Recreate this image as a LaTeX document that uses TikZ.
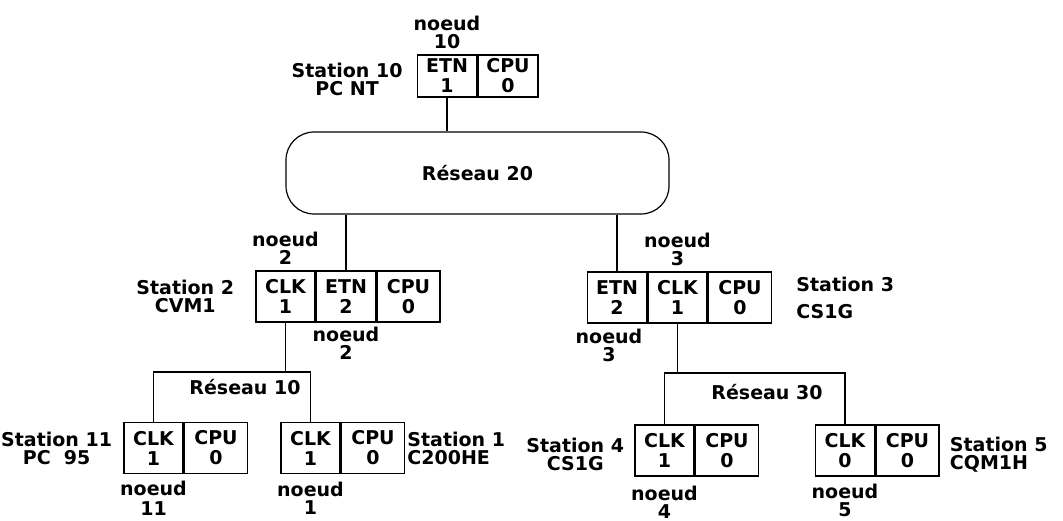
\documentclass[tikz,border=0pt]{standalone}
\usepackage{fontspec}
\setmainfont{DejaVu Sans}
\usetikzlibrary{positioning}
\tikzset{
  cellule/.style = {draw, line width = 1.5pt, minimum width = 59pt, minimum height = 51pt, inner sep = 0pt, align = center, font = \fontsize{19}{20}\selectfont\bfseries},
  cellcpu/.style = {cellule, minimum width = 63pt},
  etiq/.style = {inner sep = 0pt, align = center},
  lien/.style = {line width = 1.5pt}
}

\begin{document}
\begin{tikzpicture}[x = 1pt, y = -1pt, font = \fontsize{19}{18}\selectfont\bfseries]
    \useasboundingbox (0, 0) rectangle (1063, 521);
    % Station 10
    \node[cellule, minimum height = 42pt] (etn10) at (447, 76) {ETN\\1};
    \node[cellcpu, minimum width = 60pt, minimum height = 42pt, right = 0pt of etn10] (cpu10) {CPU\\0};
    \node[etiq, above = 5pt of etn10] (n10) {noeud\\10};
    \node[etiq, left = 14pt of etn10, yshift = -3pt] (s10) {Station 10\\PC NT};
    % Reseau 20
    \node[draw, line width = 1.2pt, rounded corners = 28pt, minimum width = 383pt, minimum height = 82pt] (r20) at (477.5, 173) {Réseau 20};
    % Station 2
    \node[cellule] (clk2) at (285.5, 296.5) {CLK\\1};
    \node[cellule, right = 0pt of clk2] (etn2) {ETN\\2};
    \node[cellcpu, right = 0pt of etn2] (cpu2) {CPU\\0};
    \node[etiq, above = 6pt of clk2] (n2a) {noeud\\2};
    \node[etiq, below = 4pt of etn2] (n2b) {noeud\\2};
    \node[etiq, left = 21pt of clk2] (s2) {Station 2\\CVM1};
    % Station 3
    \node[cellule] (etn3) at (617, 297.5) {ETN\\2};
    \node[cellule, right = 0pt of etn3] (clk3) {CLK\\1};
    \node[cellcpu, right = 0pt of clk3] (cpu3) {CPU\\0};
    \node[etiq, above = 5pt of clk3] (n3a) {noeud\\3};
    \node[etiq, below = 5pt of etn3, xshift = -8pt] (n3b) {noeud\\3};
    \node[etiq, align = left, right = 24pt of cpu3] (s3) {Station 3\\[9pt]CS1G};
    % Reseau 10
    \node (r10) at (245, 387) {Réseau 10};
    \coordinate (bus10) at (0, 372);
    \node[cellule] (clk11) at (153.5, 448) {CLK\\1};
    \node[cellcpu, right = 0pt of clk11] (cpu11) {CPU\\0};
    \node[etiq, left = 11pt of clk11] (s11) {Station 11\\PC~~95};
    \node[etiq, below = 7pt of clk11] (n11) {noeud\\[2pt]11};
    \node[cellule] (clk1) at (310.5, 448) {CLK\\1};
    \node[cellcpu, right = 0pt of clk1] (cpu1) {CPU\\0};
    \node[etiq, align = left, right = 2pt of cpu1] (s1) {Station 1\\C200HE};
    \node[etiq, below = 8pt of clk1] (n1) {noeud\\1};
    % Reseau 30
    \node (r30) at (767, 392) {Réseau 30};
    \coordinate (bus30) at (0, 373);
    \node[cellule] (clk4) at (664.5, 450.5) {CLK\\1};
    \node[cellcpu, right = 0pt of clk4] (cpu4) {CPU\\0};
    \node[etiq, left = 10pt of clk4, yshift = -4pt] (s4) {Station 4\\CS1G};
    \node[etiq, below = 9pt of clk4] (n4) {noeud\\4};
    \node[cellule] (clk5) at (845, 450.5) {CLK\\0};
    \node[cellcpu, right = 0pt of clk5] (cpu5) {CPU\\0};
    \node[etiq, align = left, right = 10pt of cpu5, yshift = -4pt] (s5) {Station 5\\CQM1H};
    \node[etiq, below = 7pt of clk5] (n5) {noeud\\5};
    % Liaisons
    \draw[lien] (etn10.south) -- (etn10.south |- r20.north);
    \draw[lien] (etn2.north) -- (etn2.north |- r20.south);
    \draw[lien] (etn3.north) -- (etn3.north |- r20.south);
    \draw[lien] (clk2.south) -- (clk2.south |- bus10);
    \draw[lien] (clk11.north) |- (bus10 -| clk1.north) -- (clk1.north);
    \draw[lien] (clk3.south) -- (clk3.south |- bus30);
    \draw[lien] (clk4.north) |- (bus30 -| clk5.north) -- (clk5.north);
\end{tikzpicture}
\end{document}
